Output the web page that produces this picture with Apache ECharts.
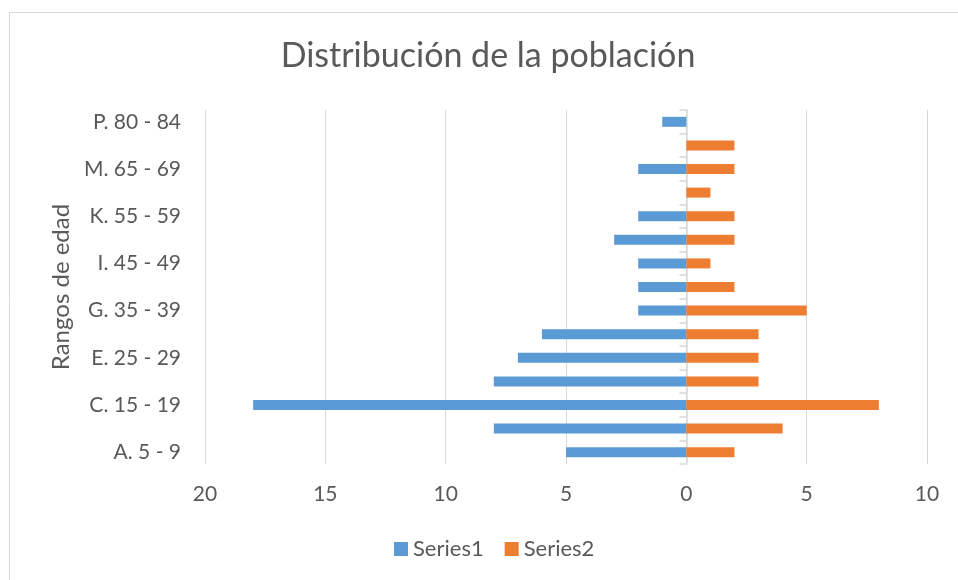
<!DOCTYPE html>
<html>
<head>
<meta charset="utf-8">
<script src="https://cdn.jsdelivr.net/npm/echarts@6/dist/echarts.min.js"></script>
<style>
  html, body { margin: 0; padding: 0; background: #ffffff; }
  #chart { width: 958px; height: 580px; }
</style>
</head>
<body>
<div id="chart"></div>
<script>
// Age groups, bottom to top
const categories = [
  'A. 5 - 9', 'B. 10 - 14', 'C. 15 - 19', 'D. 20 - 24', 'E. 25 - 29',
  'F. 30 - 34', 'G. 35 - 39', 'H. 40 - 44', 'I. 45 - 49', 'J. 50 - 54',
  'K. 55 - 59', 'L. 60 - 64', 'M. 65 - 69', 'N. 70 - 74', 'P. 80 - 84'
];
// Series1 is drawn to the left of zero (stored as positive counts)
const series1 = [5, 8, 18, 8, 7, 6, 2, 2, 2, 3, 2, 0, 2, 0, 1];
const series2 = [2, 4, 8, 3, 3, 3, 5, 2, 1, 2, 2, 1, 2, 2, 0];
const valueTicks = [-20, -15, -10, -5, 0, 5, 10];

const FONT = 'Lato';
const TEXT = '#595959';
const GRID = '#d9d9d9';

const chart = echarts.init(document.getElementById('chart'), null, { renderer: 'canvas' });

chart.setOption({
  backgroundColor: '#ffffff',
  animation: false,
  textStyle: { fontFamily: FONT },
  title: {
    text: 'Distribución de la población',
    left: 488,
    top: 39,
    padding: 0,
    textAlign: 'center',
    textStyle: { fontFamily: FONT, fontSize: 34, fontWeight: 'normal', color: TEXT }
  },
  legend: {
    left: 394,
    top: 538,
    padding: 0,
    icon: 'rect',
    itemWidth: 14,
    itemHeight: 14,
    itemGap: 21,
    textStyle: { fontFamily: FONT, fontSize: 22, color: TEXT },
    data: ['Series1', 'Series2']
  },
  graphic: [{
    type: 'rect',
    silent: true,
    shape: { x: 9.5, y: 12.5, width: 1000, height: 1000 },
    style: { fill: 'none', stroke: GRID, lineWidth: 1 }
  }],
  grid: { left: 205, right: 31, top: 110, bottom: 116, containLabel: false },
  xAxis: {
    type: 'value',
    min: valueTicks[0],
    max: valueTicks[valueTicks.length - 1],
    interval: 5,
    axisLine: { show: false },
    axisTick: { show: false },
    splitLine: { show: true, lineStyle: { color: GRID, width: 1 } },
    axisLabel: {
      fontFamily: FONT, fontSize: 21, color: TEXT, margin: 20,
      formatter: v => String(Math.abs(v))
    }
  },
  yAxis: [{
    // labels on the left edge of the plot
    type: 'category',
    data: categories,
    position: 'left',
    axisLine: { show: false, onZero: false },
    axisTick: { show: false },
    axisLabel: {
      interval: 1, fontFamily: FONT, fontSize: 21, color: TEXT, margin: 24
    },
    name: 'Rangos de edad',
    nameLocation: 'middle',
    nameRotate: 90,
    nameGap: 132,
    nameTextStyle: { fontFamily: FONT, fontSize: 24, color: TEXT }
  }, {
    // zero line with category tick marks
    type: 'category',
    data: categories,
    position: 'left',
    axisLine: { show: true, onZero: true, lineStyle: { color: GRID, width: 1.5 } },
    axisTick: { show: true, interval: 0, length: 7, lineStyle: { color: GRID, width: 1.5 } },
    axisLabel: { show: false },
    splitLine: { show: false }
  }],
  series: [{
    name: 'Series1',
    type: 'bar',
    yAxisIndex: 0,
    barWidth: 10,
    barGap: '-100%',
    itemStyle: { color: '#5b9bd5' },
    data: series1.map(v => -v)
  }, {
    name: 'Series2',
    type: 'bar',
    yAxisIndex: 0,
    barWidth: 10,
    barGap: '-100%',
    itemStyle: { color: '#ed7d31' },
    data: series2
  }]
});
</script>
</body>
</html>
